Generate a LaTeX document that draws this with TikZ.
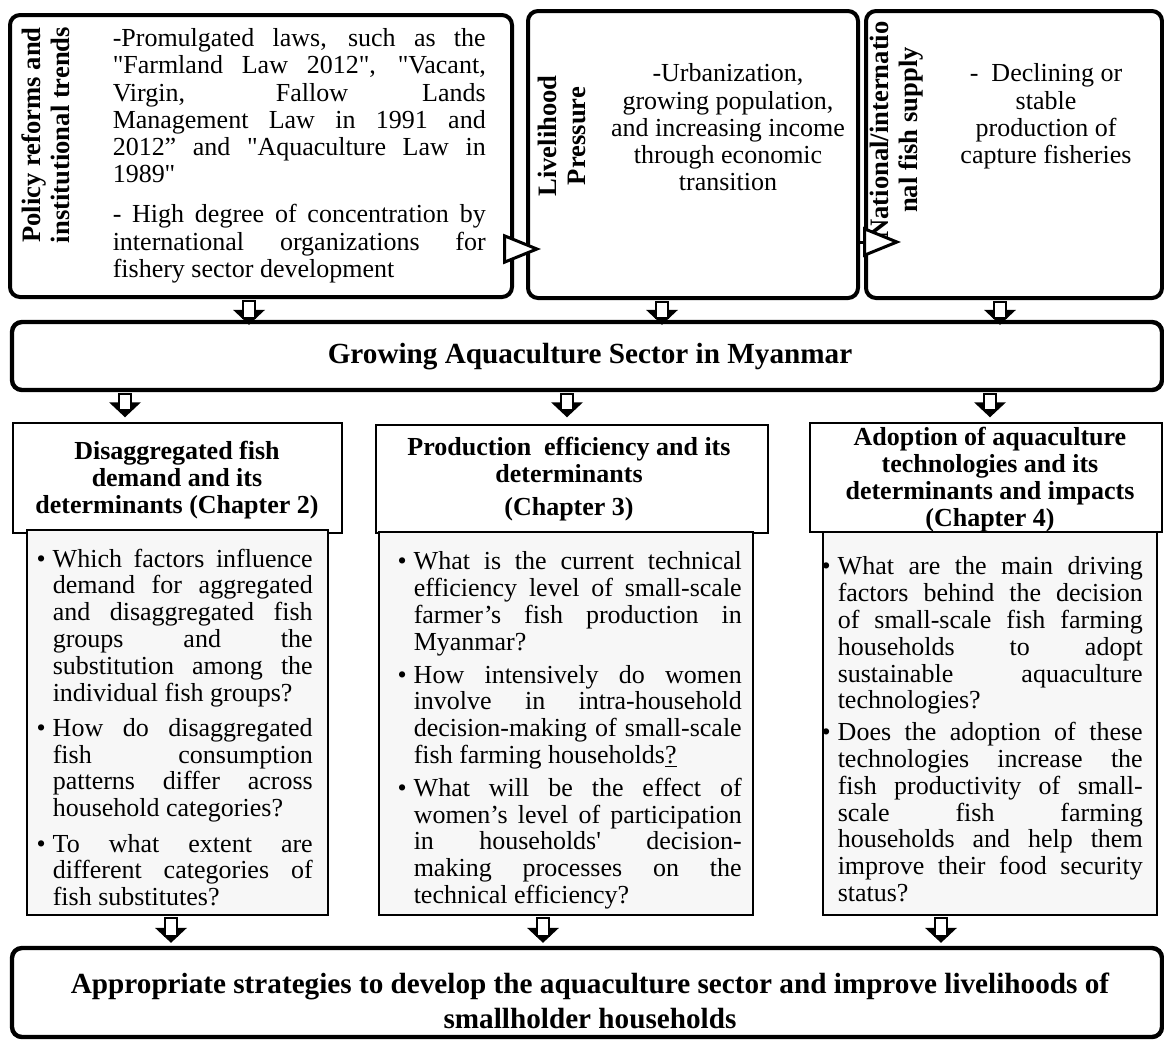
\documentclass[tikz,border=0pt]{standalone}
\usepackage{fontspec}
\setmainfont{Liberation Serif}[Ligatures=TeXOff]
\usetikzlibrary{positioning,fit,calc,arrows.meta}
\hyphenpenalty=10000
\tolerance=10000

\tikzset{every picture/.style={line width=0.75pt}}

% hollow block arrow: x, from anchor, to anchor, tip offset
\newcommand{\blockarrow}[4]{%
  \coordinate (ba-s) at ($(#2 -| #1,0)+(0,2)$);
  \coordinate (ba-e) at ($(#3 -| #1,0)+(0,#4)$);
  \fill (ba-e) -- ++(-16,-15) -- ++(32,0) -- cycle;
  \draw[line width=0.9pt, fill=white] ($(ba-s)+(-6,0)$) rectangle ($(ba-e)+(6,-7)$);
}
\newcommand{\qitem}{\noindent\llap{\textbullet\hspace{3.5pt}}}

\begin{document}
\begin{tikzpicture}[x=0.5pt,y=0.5pt,yscale=-1,xscale=1,
  bigbox/.style={draw, line width=2pt, rounded corners=5pt, inner sep=0pt},
  chapbox/.style={draw, line width=0.75pt, inner sep=0pt},
  chaptext/.style={inner sep=0pt, align=center, font=\fontsize{13}{13.5}\selectfont\bfseries},
  qbox/.style={draw, line width=0.75pt, fill=black!3, inner sep=0pt},
  sidelabel/.style={rotate=90, align=center, inner sep=0pt, font=\fontsize{13.3}{14.5}\selectfont\bfseries},
  bodytext/.style={anchor=north west, inner sep=0pt, align=justify, text width=#1, font=\fontsize{13}{13.6}\selectfont},
  qtext/.style={bodytext=#1, font=\fontsize{13}{13.4}\selectfont},
  centertext/.style={anchor=north, inner sep=0pt, align=center, font=\fontsize{13}{13.6}\selectfont},
  bigtext/.style={inner sep=0pt, align=center, font=\fontsize{14.6}{17.5}\selectfont\bfseries},
  sidearrow/.style={line width=1.5pt, -{Triangle[length=19pt, width=15pt, fill=white]}}]
    \useasboundingbox (0,0) rectangle (1164,1041);

    %Rounded Rect: driving forces
    \node[bigbox, fit={(10,15) (512,297)}] (policy) {};
    \node[bigbox, fit={(528,11) (858,298)}] (livelihood) {};
    \node[bigbox, fit={(866,11) (1162,298)}] (national) {};

    \node[sidelabel] (policylbl) at (46,135) {Policy reforms and\\institutional trends};
    \node[sidelabel] (livelbl) at (562,136) {Livelihood\\Pressure};
    \node[sidelabel] (natlbl) at (897,130) {National/internatio\\nal fish supply};

    \node[bodytext=186.5pt] (policytxt) at (112,28) {-Promulgated laws, such as the\linebreak "Farmland Law 2012", "Vacant,\linebreak Virgin, Fallow Lands\linebreak Management Law in 1991 and\linebreak 2012” and "Aquaculture Law in\linebreak 1989"\\[6.5pt]- High degree of concentration by\linebreak international organizations for\linebreak fishery sector development};
    \node[centertext] (livetxt) at (728,63) {-Urbanization,\\growing population,\\and increasing income\\through economic\\transition};
    \node[centertext] (nattxt) at (1046,63) {-\ \ Declining or\\stable\\production of\\capture fisheries};

    %Rounded Rect: sector
    \node[bigbox, line width=2.2pt, fit={(12,322) (1162,390)}] (growing) {};
    \node[bigtext] (growingtxt) at (590,357) {Growing Aquaculture Sector in Myanmar};

    %Rect: chapters
    \node[chapbox, fit={(13,423) (342,533)}] (chap2) {};
    \node[chapbox, fit={(376,425) (768,533)}] (chap3) {};
    \node[chapbox, fit={(810,423) (1162,532)}] (chap4) {};
    \node[chaptext] (chap2txt) at (177,480) {Disaggregated fish\\demand and its\\determinants (Chapter 2)};
    \node[chaptext] (chap3txt) at (569,479) {Production\ \ efficiency and its\\determinants\\[3pt](Chapter 3)};
    \node[chaptext] (chap4txt) at (990,480) {Adoption of aquaculture\\technologies and its\\determinants and impacts\\(Chapter 4)};

    %Rect: questions
    \node[qbox, fit={(27,530) (328,915)}] (qa) {};
    \node[qbox, fit={(379,532) (753,915)}] (qb) {};
    \node[qbox, fit={(823,532) (1157,915)}] (qc) {};

    \node[qtext=130pt] (qatxt) at (52,548) {\qitem Which factors influence\linebreak demand for aggregated\linebreak and disaggregated fish\linebreak groups and the\linebreak substitution among the\linebreak individual fish groups?\\[4.25pt]\qitem How do disaggregated\linebreak fish consumption\linebreak patterns differ across\linebreak household categories?\\[4.25pt]\qitem To what extent are\linebreak different categories of\linebreak fish substitutes?};
    \node[qtext=164pt] (qbtxt) at (413,551) {\qitem What is the current technical\linebreak efficiency level of small-scale\linebreak farmer’s fish production in\linebreak Myanmar?\\[3pt]\qitem How intensively do women\linebreak involve in intra-household\linebreak decision-making of small-scale\linebreak fish farming households\underline{?}\\[3pt]\qitem What will be the effect of\linebreak women’s level of participation\linebreak in households' decision-\linebreak making processes on the\linebreak technical efficiency?};
    \node[qtext=152.5pt] (qctxt) at (837,556) {\qitem What are the main driving\linebreak factors behind the decision\linebreak of small-scale fish farming\linebreak households to adopt\linebreak sustainable aquaculture\linebreak technologies?\\[2.5pt]\qitem Does the adoption of these\linebreak technologies increase the\linebreak fish productivity of small-\linebreak scale fish farming\linebreak households and help them\linebreak improve their food security\linebreak status?};

    %Rounded Rect: strategies
    \node[bigbox, line width=2.2pt, fit={(12,948) (1162,1037)}] (strategy) {};
    \node[bigtext] (strategytxt) at (590,1001) {Appropriate strategies to develop the aquaculture sector and improve livelihoods of\\smallholder households};

    %Block arrows
    \blockarrow{249}{policy.south}{growing.north}{5}
    \blockarrow{662}{livelihood.south}{growing.north}{5}
    \blockarrow{1000}{national.south}{growing.north}{5}
    \blockarrow{125}{growing.south}{chap2.north}{-5}
    \blockarrow{567}{growing.south}{chap3.north}{-7}
    \blockarrow{990}{growing.south}{chap4.north}{-5}
    \blockarrow{171}{qa.south}{strategy.north}{-3}
    \blockarrow{543}{qb.south}{strategy.north}{-3}
    \blockarrow{941}{qc.south}{strategy.north}{-3}

    %Side triangles
    \draw[sidearrow] ([xshift=-4pt]policy.east |- 0,249) -- ([xshift=7.5pt]livelihood.west |- 0,249);
    \draw[sidearrow] ([xshift=-2pt]livelihood.east |- 0,242) -- ([xshift=18.5pt]national.west |- 0,242);

\end{tikzpicture}
\end{document}
